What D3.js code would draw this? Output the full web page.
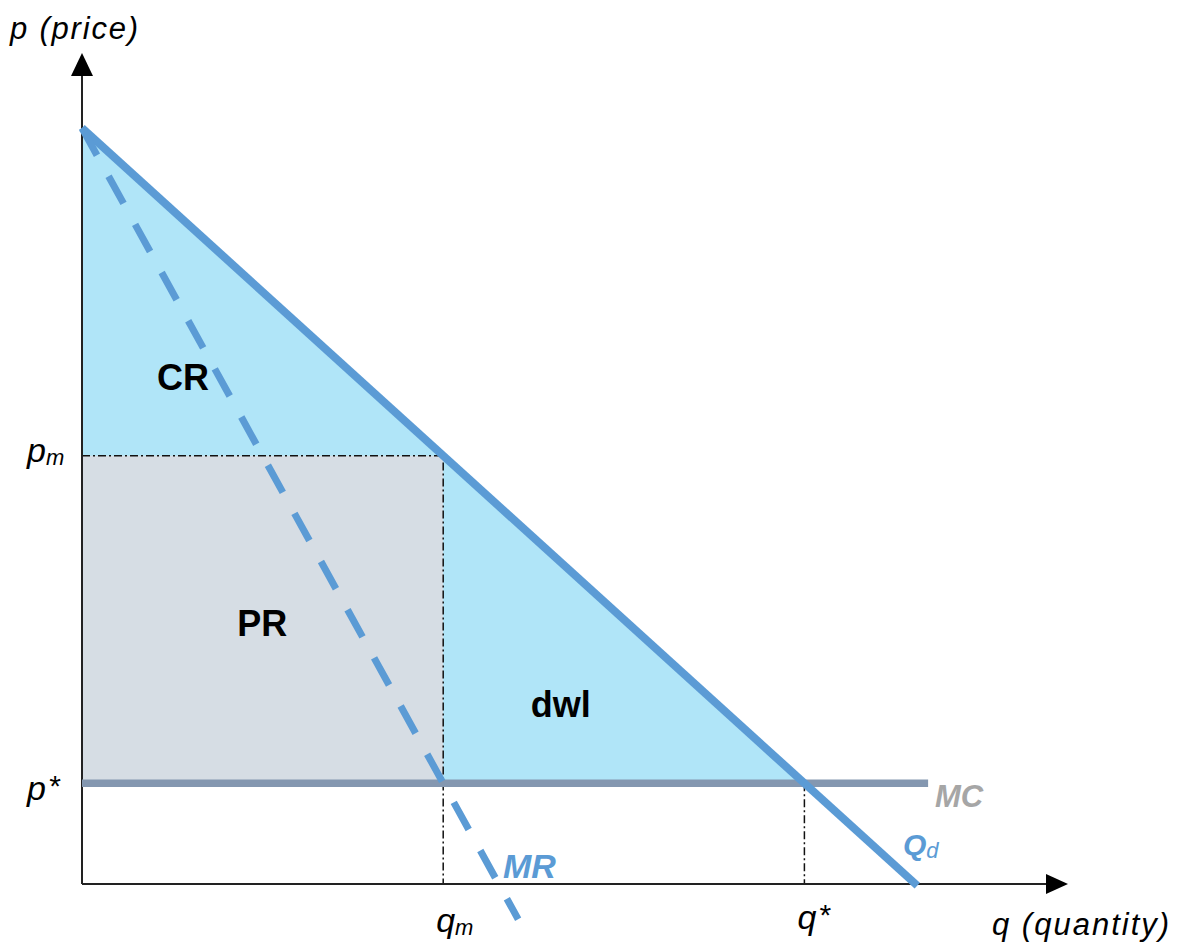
<!DOCTYPE html>
<html>
<head>
<meta charset="utf-8">
<script src="https://cdn.jsdelivr.net/npm/d3@7"></script>
<style>
  body { margin: 0; background: #fff; }
  svg { display: block; }
</style>
</head>
<body>
<div id="chart"></div>
<script>
// valores del modelo (unidades del gráfico)
const demandPts = [{ q: 0, p: 9.23 }, { q: 9.25, p: -0.02 }];
const mrPts = [{ q: 0, p: 9.23 }, { q: 4.83, p: -0.43 }];
const mcPts = [{ q: 0, p: 1.23 }, { q: 9.37, p: 1.23 }];
const pm = 5.23, qm = 4, pStar = 1.23, qStar = 8;
const priceLabels = [{ base: 'p', sub: 'm', value: pm }, { base: 'p', sup: '*', value: pStar }];
const qtyLabels = [{ base: 'q', sub: 'm', value: qm }, { base: 'q', sup: '*', value: qStar }];
const areaLabels = [{ text: 'CR', q: 0.83, p: 6.03 }, { text: 'PR', q: 1.72, p: 3.03 }, { text: 'dwl', q: 4.97, p: 2.04 }];

const width = 1182, height = 949;
const x = d3.scaleLinear().domain([0, 10]).range([82, 985]);
const y = d3.scaleLinear().domain([0, 10]).range([884, 65]);

const svg = d3.select('#chart').append('svg')
  .attr('width', width).attr('height', height);

const blue = '#5b9bd5';
const line = d3.line().x(d => x(d.q)).y(d => y(d.p));

// areas
svg.append('path')
  .attr('d', line([{ q: 0, p: demandPts[0].p }, { q: 0, p: pStar }, { q: qStar, p: pStar }]) + 'Z')
  .attr('fill', '#b0e5f8');
svg.append('rect')
  .attr('x', x(0)).attr('y', y(pm))
  .attr('width', x(qm) - x(0)).attr('height', y(pStar) - y(pm))
  .attr('fill', '#d6dde4');

// lineas punto-raya
const dashDot = '8,3,2,3';
svg.append('path').attr('d', line([{ q: 0, p: pm }, { q: qm, p: pm }, { q: qm, p: 0 }]))
  .attr('fill', 'none').attr('stroke', '#111').attr('stroke-width', 1.5).attr('stroke-dasharray', dashDot);
svg.append('path').attr('d', line([{ q: qStar, p: pStar }, { q: qStar, p: 0 }]))
  .attr('fill', 'none').attr('stroke', '#111').attr('stroke-width', 1.5).attr('stroke-dasharray', dashDot);

// ejes
svg.append('line').attr('x1', x(0)).attr('y1', y(0)).attr('x2', x(0)).attr('y2', y(9.9))
  .attr('stroke', '#222').attr('stroke-width', 2);
svg.append('line').attr('x1', x(0)).attr('y1', y(0)).attr('x2', x(10.75)).attr('y2', y(0))
  .attr('stroke', '#222').attr('stroke-width', 2);
svg.append('path')
  .attr('d', `M${x(0)},53 L${x(0) - 11},76 L${x(0) + 11},76 Z`).attr('fill', '#000');
svg.append('path')
  .attr('d', `M1068,${y(0)} L1046,${y(0) - 10} L1046,${y(0) + 10} Z`).attr('fill', '#000');

// MC
svg.append('path').attr('d', line(mcPts))
  .attr('fill', 'none').attr('stroke', '#8497b0').attr('stroke-width', 7.5);

// demanda
svg.append('path').attr('d', line(demandPts))
  .attr('fill', 'none').attr('stroke', blue).attr('stroke-width', 8);

// MR
svg.append('path').attr('d', line(mrPts))
  .attr('fill', 'none').attr('stroke', blue).attr('stroke-width', 7)
  .attr('stroke-dasharray', '31,24');

// títulos de ejes
const italic = "'Liberation Sans', Arial, sans-serif";
svg.append('text').attr('x', 10).attr('y', 39).text('p (price)')
  .attr('font-family', italic).attr('font-style', 'italic').attr('font-size', 31)
  .attr('letter-spacing', 1.8).attr('fill', '#000');
svg.append('text').attr('x', 992).attr('y', 935).text('q (quantity)')
  .attr('font-family', italic).attr('font-style', 'italic').attr('font-size', 31)
  .attr('letter-spacing', 2).attr('fill', '#000');

// etiquetas de precios y cantidades
function tickLabel(g, d) {
  const t = g.append('text').attr('font-family', italic).attr('font-style', 'italic')
    .attr('font-size', 34).attr('fill', '#000');
  t.append('tspan').text(d.base);
  if (d.sub) t.append('tspan').text(d.sub).attr('font-size', 22).attr('dy', 3);
  if (d.sup) t.append('tspan').text(d.sup).attr('font-size', 30).attr('dx', 2).attr('dy', -4);
  return t;
}
priceLabels.forEach(d => {
  tickLabel(svg, d).attr('x', 27).attr('y', y(d.value) + (d.sub ? 6 : 17));
});
qtyLabels.forEach(d => {
  tickLabel(svg, d).attr('x', x(d.value) - 7).attr('y', y(0) + (d.sub ? 48 : 45));
});

// etiquetas de áreas
areaLabels.forEach(d => {
  svg.append('text').attr('x', x(d.q)).attr('y', y(d.p)).text(d.text)
    .attr('font-family', italic).attr('font-weight', 'bold').attr('font-size', 36).attr('fill', '#000');
});

// etiquetas de curvas
svg.append('text').attr('x', 503).attr('y', 878).text('MR')
  .attr('font-family', italic).attr('font-style', 'italic').attr('font-weight', 'bold')
  .attr('font-size', 34).attr('fill', blue);
svg.append('text').attr('x', 935).attr('y', 807).text('MC')
  .attr('font-family', italic).attr('font-style', 'italic').attr('font-weight', 'bold')
  .attr('font-size', 31).attr('fill', '#a6a6a6');
const qd = svg.append('text').attr('x', 903).attr('y', 855)
  .attr('font-family', italic).attr('font-style', 'italic').attr('font-weight', 'bold')
  .attr('font-size', 30).attr('fill', blue);
qd.append('tspan').text('Q');
qd.append('tspan').text('d').attr('font-size', 22).attr('dy', 3).attr('font-weight', 'normal');
</script>
</body>
</html>
